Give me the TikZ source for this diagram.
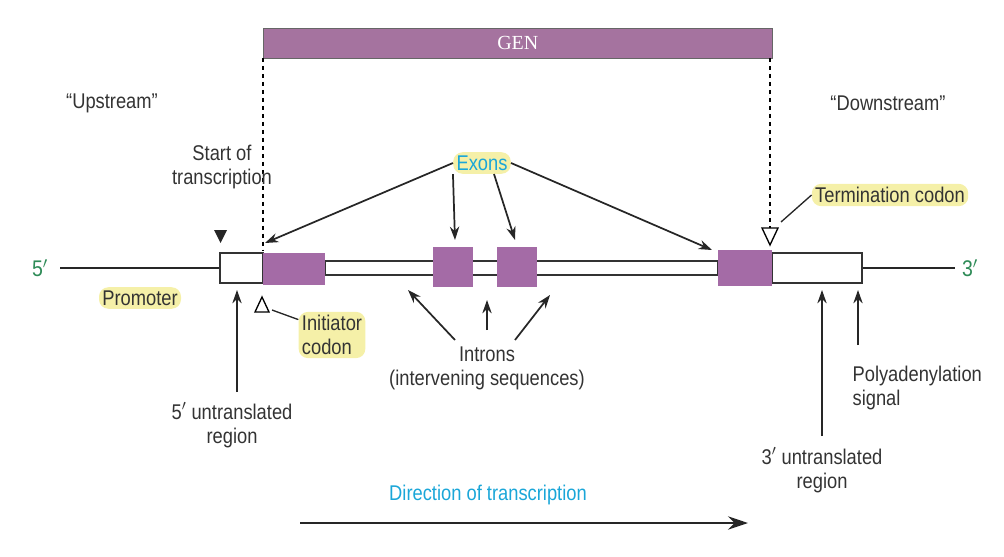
\documentclass[tikz,border=0pt]{standalone}
\usepackage{fontspec}
\setmainfont{Liberation Sans}[FakeStretch=0.86]
\newfontfamily\gserif{Liberation Serif}
\usetikzlibrary{arrows.meta}
\definecolor{gen}{HTML}{A5739F}
\definecolor{ex}{HTML}{A46BA6}
\definecolor{hl}{HTML}{F5F0A8}
\definecolor{cy}{HTML}{1AA6D8}
\definecolor{gr}{HTML}{2E8B57}
\begin{document}
\begin{tikzpicture}[x=0.0264cm,y=-0.0264cm,
  lbl/.style={font=\fontsize{16}{18}\selectfont,text=black!80,inner sep=1pt,align=center},
  hlt/.style={lbl,fill=hl,rounded corners=7pt,inner sep=2.5pt},
  arr/.style={-{Stealth[length=10pt,width=7pt]},line width=1.3pt,black!85},
  box/.style={draw=black!80,line width=1pt,fill=white}]
\useasboundingbox (0,0) rectangle (1004,557);
% GEN bar
\node[draw=black!60,fill=gen,minimum width=509*0.0264cm,minimum height=30*0.0264cm,inner sep=0,anchor=north west,text=white,font=\gserif\fontsize{15}{16}\selectfont] (gen) at (263,28) {GEN};
\node[lbl] (up) at (112,103) {``Upstream''};
\node[lbl] (down) at (888,103) {``Downstream''};
% main line
\node[font=\fontsize{17}{17}\selectfont,text=gr] (p5) at (40,268) {5$'$};
\node[font=\fontsize{17}{17}\selectfont,text=gr] (p3) at (970,268) {3$'$};
\coordinate (l5) at (60,268); \coordinate (r3) at (955,268);
\draw[line width=2.2pt,black!85] (l5) -- (220,268);
\draw[line width=2.2pt,black!85] (862,268) -- (r3);
\draw[box] (220,253) rectangle (263,283);
\draw[box] (772,253) rectangle (862,283);
\draw[box] (325,261) rectangle (718,275);
\fill[ex] (263,253) rectangle (325,285);
\fill[ex] (433,247) rectangle (473,287);
\fill[ex] (497,247) rectangle (537,287);
\fill[ex] (718,250) rectangle (772,286);
\coordinate (e1) at (265,243); \coordinate (e2) at (455,240);
\coordinate (e3) at (515,240); \coordinate (e4) at (712,250);
% dashed
\draw[dashed,line width=1pt] (263,58) -- (263,250);
\draw[dashed,line width=1pt] (770,58) -- (770,228);
\draw[line width=1pt,fill=white] (762,228) -- (778,228) -- (770,245) -- cycle;
% start of transcription
\node[lbl] (st) at (222,167) {Start of\\transcription};
\fill[black!85] (214,230) -- (227,230) -- (220.5,243) -- cycle;
% exons
\node[hlt,text=cy] (ex) at (482,163) {Exons};
\draw[arr] (ex.west) -- (e1);
\draw[arr] (ex.south west) -- (e2);
\draw[arr] (ex.south) ++(12,0) -- (e3);
\draw[arr] (ex.east) -- (e4);
% termination
\node[hlt] (term) at (890,195) {Termination codon};
\draw[line width=1pt,black!85] (term.west) -- (781,222);
% promoter
\node[hlt] (prom) at (140,298) {Promoter};
% initiator
\draw[line width=1pt,fill=white] (262,297) -- (269,312) -- (255,312) -- cycle;
\node[hlt,align=left] (init) at (332,335) {Initiator\\codon};
\draw[line width=1pt,black!85] (init.north west) ++(0,8) -- (272,310);
% introns
\node[lbl] (intr) at (487,368) {Introns\\(intervening sequences)};
\draw[arr] (455,340) -- (408,290);
\draw[arr] (487,330) -- (487,300);
\draw[arr] (515,340) -- (550,295);
% 5' UTR
\node[lbl] (u5) at (232,425) {5$'$ untranslated\\region};
\draw[arr] (237,392) -- (237,290);
% 3' UTR
\node[lbl] (u3) at (822,470) {3$'$ untranslated\\region};
\draw[arr] (822,436) -- (822,290);
% polyA
\node[lbl,align=left,anchor=west] (pa) at (851,388) {Polyadenylation\\signal};
\draw[arr] (858,345) -- (858,290);
% direction
\node[lbl,text=cy] (dir) at (488,495) {Direction of transcription};
\coordinate (d1) at (300,523); \coordinate (d2) at (748,523);
\draw[-{Stealth[length=15pt,width=10pt]},line width=2pt,black!85] (d1) -- (d2);
\end{tikzpicture}
\end{document}
